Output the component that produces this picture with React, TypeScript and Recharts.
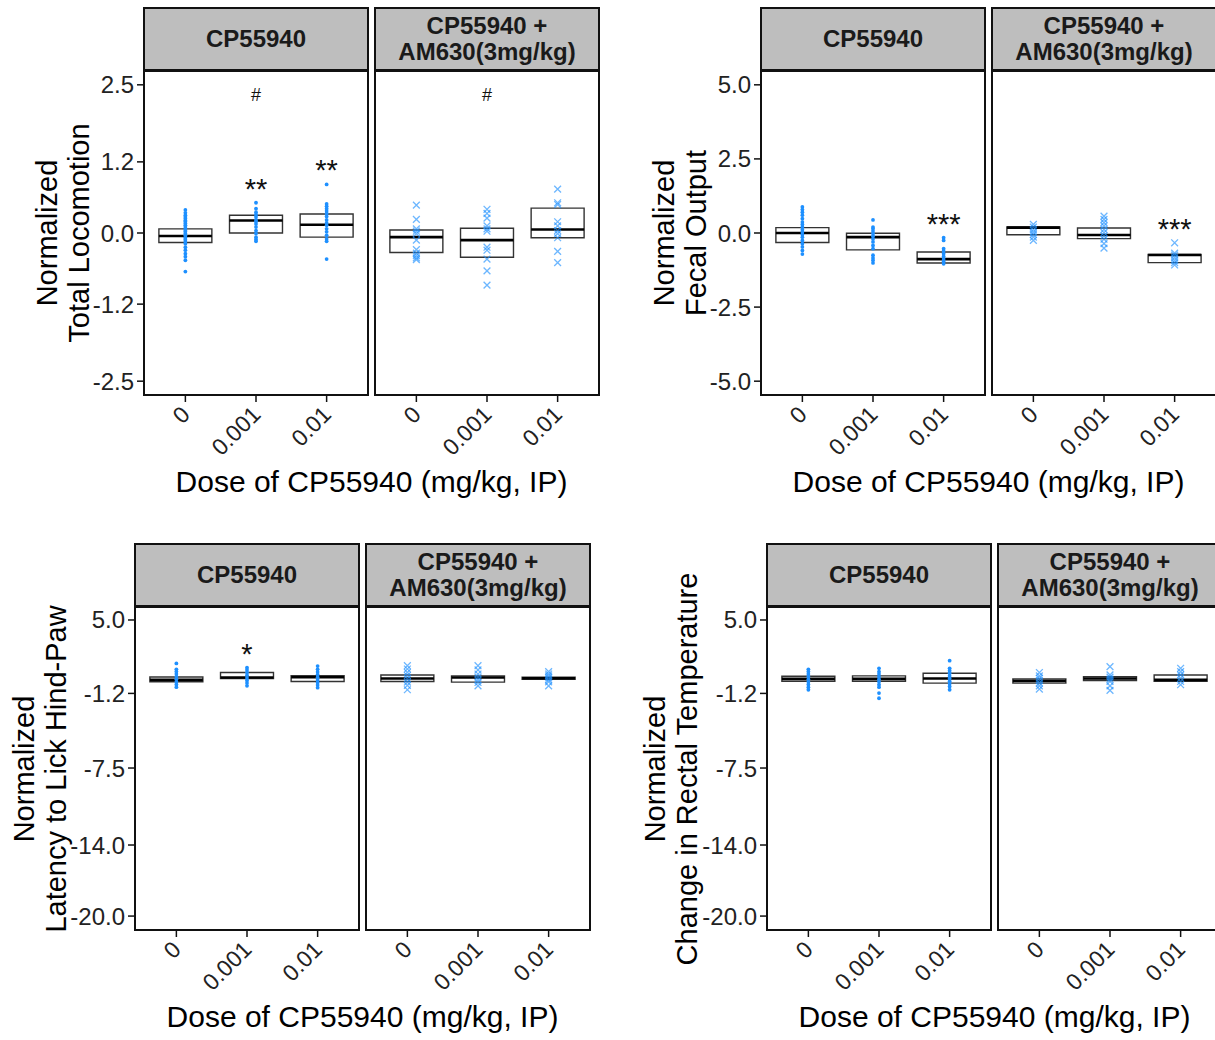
import React from 'react';
import { ComposedChart, XAxis, YAxis, Scatter, ReferenceArea, ReferenceLine } from 'recharts';

const doses = ['0', '0.001', '0.01'];
const facetNames = ['CP55940', 'CP55940 +\nAM630(3mg/kg)'];

// Total locomotion
const locoTicks = [2.5, 1.2, 0, -1.2, -2.5];
const locoCp = [
  [0.39, 0.34, 0.3, 0.27, 0.24, 0.21, 0.19, 0.16, 0.13, 0.1, 0.07, 0.04, 0.02, -0.01, -0.04, -0.07, -0.1, -0.12, -0.15, -0.18, -0.24, -0.29, -0.35, -0.4, -0.46, -0.65],
  [0.51, 0.41, 0.35, 0.31, 0.27, 0.22, 0.19, 0.15, 0.1, 0.04, -0.01, -0.07, -0.11, -0.14],
  [0.82, 0.49, 0.45, 0.41, 0.37, 0.33, 0.28, 0.22, 0.17, 0.13, 0.07, 0.02, -0.04, -0.1, -0.14, -0.44],
];
const locoCpBox = [[-0.16, -0.05, 0.07], [0.0, 0.21, 0.3], [-0.07, 0.14, 0.32]];
const locoAm = [
  [0.47, 0.23, 0.07, 0.03, -0.01, -0.12, -0.28, -0.34, -0.38, -0.42, -0.45],
  [0.4, 0.33, 0.25, 0.12, 0.07, 0.03, -0.24, -0.29, -0.44, -0.64, -0.88],
  [0.74, 0.51, 0.48, 0.19, 0.12, 0.04, -0.01, -0.08, -0.31, -0.5],
];
const locoAmBox = [[-0.33, -0.07, 0.05], [-0.41, -0.12, 0.08], [-0.08, 0.06, 0.42]];
const locoCpMarks = [
  { dose: '0.001', y: 0.86, text: '**' },
  { dose: '0.01', y: 1.17, text: '**' },
  { dose: '0.001', y: 2.34, text: '#' },
];
const locoAmMarks = [{ dose: '0.001', y: 2.34, text: '#' }];

// Fecal output
const fecalTicks = [5, 2.5, 0, -2.5, -5];
const fecalCp = [
  [0.88, 0.79, 0.7, 0.6, 0.48, 0.37, 0.29, 0.2, 0.11, 0.03, -0.05, -0.14, -0.25, -0.36, -0.47, -0.59, -0.71],
  [0.44, 0.2, 0.15, 0.07, -0.02, -0.11, -0.2, -0.3, -0.42, -0.53, -0.75, -0.84, -0.92, -1.01],
  [-0.16, -0.25, -0.53, -0.61, -0.7, -0.79, -0.88, -0.96, -1.04],
];
const fecalCpBox = [[-0.32, 0.0, 0.18], [-0.57, -0.14, -0.01], [-1.01, -0.88, -0.64]];
const fecalAm = [
  [0.29, 0.2, 0.11, 0.03, -0.05, -0.14, -0.25],
  [0.57, 0.46, 0.35, 0.24, 0.12, 0.01, -0.1, -0.21, -0.36, -0.51],
  [-0.33, -0.68, -0.75, -0.83, -0.92, -1.0, -1.08],
];
const fecalAmBox = [[-0.06, 0.18, 0.2], [-0.19, -0.07, 0.17], [-1.0, -0.74, -0.72]];
const fecalCpMarks = [{ dose: '0.01', y: 0.54, text: '***' }];
const fecalAmMarks = [{ dose: '0.01', y: 0.35, text: '***' }];

// Latency to lick hind-paw
const bigTicks = [5, -1.2, -7.5, -14, -20];
const latCp = [
  [1.33, 0.83, 0.64, 0.44, 0.22, 0.0, -0.22, -0.44, -0.67],
  [0.97, 0.78, 0.56, 0.33, 0.11, -0.11, -0.33, -0.56],
  [1.11, 0.83, 0.61, 0.39, 0.17, -0.06, -0.28, -0.5, -0.72],
];
const latCpBox = [[-0.22, -0.06, 0.19], [0.06, 0.14, 0.56], [-0.19, 0.17, 0.3]];
const latAm = [
  [1.14, 0.86, 0.58, 0.31, 0.03, -0.25, -0.53, -0.89],
  [1.14, 0.78, 0.44, 0.17, -0.06, -0.28, -0.56],
  [0.64, 0.44, 0.28, 0.11, -0.06, -0.22, -0.56],
];
const latAmBox = [[-0.19, 0.06, 0.36], [-0.25, 0.14, 0.28], [0.0, 0.08, 0.17]];
const latCpMarks = [{ dose: '0.001', y: 2.72, text: '*' }];

// Change in rectal temperature
const tempCp = [
  [0.83, 0.64, 0.44, 0.22, 0.0, -0.22, -0.44, -0.67, -0.89],
  [0.92, 0.64, 0.44, 0.22, 0.0, -0.22, -0.47, -0.67, -1.17, -1.61],
  [1.56, 0.92, 0.72, 0.5, 0.28, 0.06, -0.17, -0.39, -0.61, -0.89],
];
const tempCpBox = [[-0.17, 0.03, 0.25], [-0.17, 0.03, 0.28], [-0.33, 0.06, 0.5]];
const tempAm = [
  [0.56, 0.28, 0.08, -0.11, -0.33, -0.56, -0.83],
  [1.06, 0.36, 0.17, 0.0, -0.19, -0.56, -0.94],
  [0.92, 0.64, 0.36, 0.08, -0.19, -0.47],
];
const tempAmBox = [[-0.33, -0.14, 0.03], [-0.11, 0.06, 0.22], [-0.17, -0.06, 0.36]];

const FW = 226;
const BLUE = '#1E90FF';

const panels = [
  {
    title: 'Normalized\nTotal Locomotion', titleX: 63, lefts: [143, 374],
    stripTop: 7, plotTop: 70, plotBottom: 396, xTitleY: 482,
    domain: [-2.75, 2.75], ticks: locoTicks,
    facets: [
      { points: locoCp, boxes: locoCpBox, marks: locoCpMarks },
      { points: locoAm, boxes: locoAmBox, marks: locoAmMarks },
    ],
  },
  {
    title: 'Normalized\nFecal Output', titleX: 680, lefts: [760, 991],
    stripTop: 7, plotTop: 70, plotBottom: 396, xTitleY: 482,
    domain: [-5.5, 5.5], ticks: fecalTicks,
    facets: [
      { points: fecalCp, boxes: fecalCpBox, marks: fecalCpMarks },
      { points: fecalAm, boxes: fecalAmBox, marks: fecalAmMarks },
    ],
  },
  {
    title: 'Normalized\nLatency to Lick Hind-Paw', titleX: 40, lefts: [134, 365],
    stripTop: 543, plotTop: 606, plotBottom: 931, xTitleY: 1017,
    domain: [-21.26, 6.18], ticks: bigTicks,
    facets: [
      { points: latCp, boxes: latCpBox, marks: latCpMarks },
      { points: latAm, boxes: latAmBox, marks: [] },
    ],
  },
  {
    title: 'Normalized\nChange in Rectal Temperature', titleX: 671, lefts: [766, 997],
    stripTop: 543, plotTop: 606, plotBottom: 931, xTitleY: 1017,
    domain: [-21.26, 6.18], ticks: bigTicks,
    facets: [
      { points: tempCp, boxes: tempCpBox, marks: [] },
      { points: tempAm, boxes: tempAmBox, marks: [] },
    ],
  },
];

const DotShape = (p: any) => <circle cx={p.cx} cy={p.cy} r={1.9} fill={BLUE} />;

const CrossShape = (p: any) => {
  const s = 3.4;
  return (
    <path
      d={`M${p.cx - s},${p.cy - s}L${p.cx + s},${p.cy + s}M${p.cx - s},${p.cy + s}L${p.cx + s},${p.cy - s}`}
      stroke={BLUE}
      strokeOpacity={0.65}
      strokeWidth={1.3}
      fill="none"
    />
  );
};

const MarkText = (p: any) => {
  const star = p.payload.text.includes('*');
  const fs = star ? 29 : 18;
  return (
    <text x={p.cx} y={p.cy + fs * (star ? 0.57 : 0.36)} textAnchor="middle" fontSize={fs} fill="#111">
      {p.payload.text}
    </text>
  );
};

const DoseTick = (p: any) => {
  const ax = p.x + 6;
  const ay = p.y + 12;
  return (
    <text x={ax} y={ay} transform={`rotate(-45, ${ax}, ${ay})`} textAnchor="end" fontSize={23} fill="#222">
      {doses[p.payload.value - 1]}
    </text>
  );
};

function Facet({ panel, idx }: any) {
  const facet = panel.facets[idx];
  const left = panel.lefts[idx];
  const yW = idx === 0 ? 110 : 0;
  const plotH = panel.plotBottom - panel.plotTop;
  const pts = facet.points.flatMap((vals: number[], i: number) => vals.map((v) => ({ x: i + 1, y: v })));
  const marks = facet.marks.map((m: any) => ({ x: doses.indexOf(m.dose) + 1, y: m.y, text: m.text }));
  return (
    <>
      <div
        style={{
          position: 'absolute', left, top: panel.stripTop, width: FW, height: panel.plotTop - panel.stripTop + 1,
          background: '#bebebe', border: '2px solid #111', boxSizing: 'border-box',
          display: 'flex', alignItems: 'center', justifyContent: 'center', textAlign: 'center',
          whiteSpace: 'pre', fontWeight: 'bold', fontSize: 24, lineHeight: '26px', color: '#1a1a1a',
        }}
      >
        {facetNames[idx]}
      </div>
      <div style={{ position: 'absolute', left: left - yW, top: panel.plotTop }}>
        <ComposedChart width={yW + FW} height={plotH + 80} margin={{ top: 0, right: 0, bottom: 0, left: 0 }}>
          <XAxis
            type="number" dataKey="x" domain={[0.4, 3.6]} ticks={[1, 2, 3]} allowDataOverflow
            height={80} axisLine={false} tickSize={6} tickMargin={2}
            tickLine={{ stroke: '#111', strokeWidth: 1.5 }} tick={<DoseTick />}
          />
          <YAxis
            type="number" dataKey="y" domain={panel.domain} ticks={panel.ticks} allowDataOverflow
            hide={idx !== 0} width={yW} axisLine={false} tickSize={6} tickMargin={3}
            tickLine={{ stroke: '#111', strokeWidth: 1.5 }}
            tick={{ fontSize: 24, fill: '#222' }}
            tickFormatter={(v: number) => v.toFixed(1)}
          />
          {facet.boxes.map(([q1, , q3]: number[], i: number) => (
            <ReferenceArea
              key={`b${i}`} x1={i + 0.625} x2={i + 1.375} y1={q1} y2={q3}
              fill="none" stroke="#333" strokeWidth={1.4} ifOverflow="visible"
            />
          ))}
          {facet.boxes.map(([, med]: number[], i: number) => (
            <ReferenceLine
              key={`m${i}`} segment={[{ x: i + 0.625, y: med }, { x: i + 1.375, y: med }]}
              stroke="#000" strokeWidth={2.6} ifOverflow="visible"
            />
          ))}
          <Scatter data={pts} shape={idx === 0 ? DotShape : CrossShape} isAnimationActive={false} />
          <Scatter data={marks} shape={MarkText} isAnimationActive={false} />
        </ComposedChart>
      </div>
      <div
        style={{
          position: 'absolute', left, top: panel.plotTop, width: FW, height: plotH,
          border: '2px solid #111', boxSizing: 'border-box', pointerEvents: 'none',
        }}
      />
    </>
  );
}

export default function App() {
  return (
    <div
      style={{
        position: 'absolute', left: 0, top: 0, width: 1215, height: 1040, overflow: 'hidden',
        background: '#fff', fontFamily: '"Liberation Sans", Arial, sans-serif', color: '#000',
      }}
    >
      {panels.map((panel, k) => (
        <React.Fragment key={k}>
          <div
            style={{
              position: 'absolute', left: panel.titleX, top: (panel.plotTop + panel.plotBottom) / 2,
              transform: 'translate(-50%, -50%) rotate(-90deg)', whiteSpace: 'pre', textAlign: 'center',
              fontSize: 29, lineHeight: '32px',
            }}
          >
            {panel.title}
          </div>
          <Facet panel={panel} idx={0} />
          <Facet panel={panel} idx={1} />
          <div
            style={{
              position: 'absolute', left: (panel.lefts[0] + panel.lefts[1] + FW) / 2, top: panel.xTitleY,
              transform: 'translate(-50%, -50%)', whiteSpace: 'pre', fontSize: 30,
            }}
          >
            Dose of CP55940 (mg/kg, IP)
          </div>
        </React.Fragment>
      ))}
    </div>
  );
}
